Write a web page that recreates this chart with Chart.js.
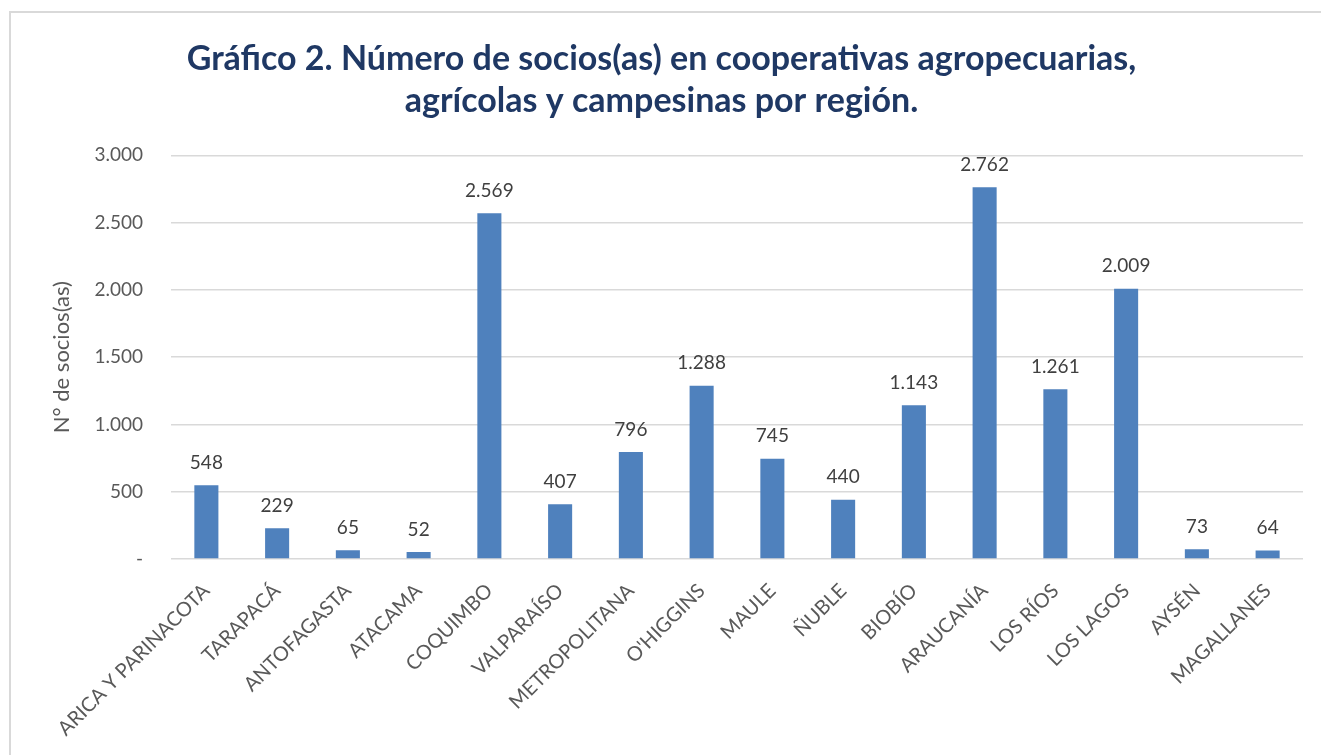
<!DOCTYPE html>
<html>
<head>
<meta charset="utf-8">
<script src="https://cdn.jsdelivr.net/npm/chart.js@4"></script>
<style>
  body { margin: 0; background: #fff; }
  #frame { position: absolute; left: 9px; top: 11px; width: 1340px; height: 770px; border: 2px solid #d9d9d9; }
  #wrap { position: absolute; left: 0; top: 0; width: 1321px; height: 755px; }
</style>
</head>
<body>
<div id="frame"></div>
<div id="wrap"><canvas id="chart"></canvas></div>
<script>
const regiones = ["ARICA Y PARINACOTA", "TARAPACÁ", "ANTOFAGASTA", "ATACAMA", "COQUIMBO", "VALPARAÍSO", "METROPOLITANA", "O'HIGGINS", "MAULE", "ÑUBLE", "BIOBÍO", "ARAUCANÍA", "LOS RÍOS", "LOS LAGOS", "AYSÉN", "MAGALLANES"];
const socios = [548, 229, 65, 52, 2569, 407, 796, 1288, 745, 440, 1143, 2762, 1261, 2009, 73, 64];

function miles(v) {
  if (v === 0) return "-";
  return v.toString().replace(/\B(?=(\d{3})+(?!\d))/g, ".");
}

// valores encima de cada barra
const etiquetas = {
  id: "etiquetas",
  afterDatasetsDraw(chart) {
    const ctx = chart.ctx;
    const meta = chart.getDatasetMeta(0);
    ctx.save();
    ctx.font = "19px Lato";
    ctx.fillStyle = "#404040";
    ctx.textAlign = "center";
    ctx.textBaseline = "bottom";
    meta.data.forEach((bar, i) => {
      ctx.fillText(miles(socios[i]), bar.x, bar.y - 13);
    });
    ctx.restore();
  }
};

new Chart(document.getElementById("chart"), {
  type: "bar",
  data: {
    labels: regiones,
    datasets: [{
      data: socios,
      backgroundColor: "#4f81bd",
      barPercentage: 0.68,
      categoryPercentage: 0.5
    }]
  },
  options: {
    responsive: true,
    maintainAspectRatio: false,
    animation: false,
    layout: { padding: { left: 20, right: 18, top: 0, bottom: 0 } },
    plugins: {
      legend: { display: false },
      tooltip: { enabled: false },
      title: {
        display: true,
        text: ["Gráfico 2. Número de socios(as) en cooperativas agropecuarias,", "agrícolas y campesinas por región."],
        color: "#1f3864",
        font: { family: "Lato", size: 34, weight: "bold", lineHeight: 1.24 },
        padding: { top: 38, bottom: 33 }
      }
    },
    scales: {
      x: {
        grid: { display: false },
        border: { display: false },
        ticks: {
          color: "#595959",
          font: { family: "Lato", size: 20 },
          maxRotation: 45,
          minRotation: 45,
          autoSkip: false,
          padding: 12
        },
        afterFit(scale) { scale.height = 196; }
      },
      y: {
        min: 0,
        max: 3000,
        border: { display: false },
        grid: { color: "#d9d9d9", lineWidth: 1.5, drawTicks: false },
        ticks: {
          stepSize: 500,
          color: "#595959",
          font: { family: "Lato", size: 19 },
          padding: 28,
          callback: (v) => miles(v)
        },
        title: {
          display: true,
          text: "N° de socios(as)",
          color: "#595959",
          font: { family: "Lato", size: 22 },
          padding: { top: 29, bottom: 4 }
        },
        afterFit(scale) { scale.width = 151; }
      }
    }
  },
  plugins: [etiquetas]
});
</script>
</body>
</html>
